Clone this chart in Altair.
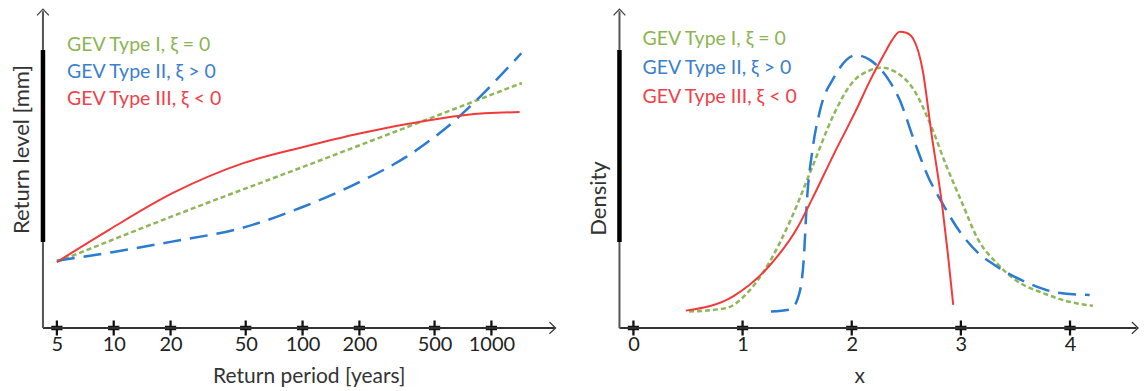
import altair as alt
import pandas as pd

FONT = "Lato"
GREEN = "#8db75a"
BLUE = "#2b7bd0"
RED = "#f23a3a"
LEG_COLORS = ["#8cb453", "#3a80cc", "#f2404a"]

# ---------------- left panel: return level vs return period ----------------
rp_ticks = [5, 10, 20, 50, 100, 200, 500, 1000]
t1_period = [5, 20, 100, 500, 1450]
t1_level = [20.6, 34.7, 50.3, 66.1, 76.6]
t2_period = [5, 10, 20, 50, 100, 200, 352, 476, 670, 766, 1440]
t2_level = [21.0, 23.75, 26.9, 31.6, 37.8, 45.6, 53.4, 58.75, 65.9, 69.1, 85.9]
t3_period = [5, 9.4, 20.6, 49, 101, 203, 476, 730, 1410]
t3_level = [20.6, 30.6, 42.2, 51.6, 56.6, 60.9, 65.0, 66.6, 67.5]

# ---------------- right panel: density ----------------
x_ticks = [0, 1, 2, 3, 4]
d1_x = [0.51, 0.85, 1.04, 1.24, 1.44, 1.64, 1.84, 2.00, 2.17, 2.27, 2.40, 2.57, 2.73, 2.87, 3.00, 3.16, 3.33, 3.50, 3.76, 3.99, 4.21]
d1_y = [5.1, 6.2, 10.8, 20.2, 33.75, 50.4, 67.1, 76.5, 80.6, 81.4, 80.1, 74.4, 62.9, 50.4, 40.0, 27.5, 20.2, 15.0, 10.8, 8.2, 6.9]
d2_x = [1.26, 1.44, 1.52, 1.56, 1.59, 1.64, 1.71, 1.84, 2.04, 2.17, 2.34, 2.44, 2.57, 2.70, 2.83, 3.00, 3.16, 3.33, 3.66, 3.89, 4.18]
d2_y = [5.1, 5.8, 10.8, 21.25, 40.0, 55.6, 68.1, 78.5, 85.3, 83.75, 77.5, 71.25, 58.75, 47.3, 39.0, 29.6, 23.4, 19.2, 13.4, 11.0, 10.3]
d3_x = [0.48, 0.91, 1.24, 1.51, 1.64, 1.84, 2.04, 2.17, 2.30, 2.37, 2.44, 2.50, 2.57, 2.65, 2.73, 2.83, 2.88, 2.93]
d3_y = [5.4, 9.8, 19.2, 31.8, 40.5, 54.6, 68.1, 77.5, 85.8, 90.0, 92.6, 92.3, 90.0, 80.6, 60.9, 37.9, 23.4, 7.2]

legend_labels = ["GEV Type I, \u03be = 0", "GEV Type II, \u03be > 0", "GEV Type III, \u03be < 0"]

CROSS = "M-0.15,-1H0.15V-0.3H0.75V0.3H0.15V1H-0.15V0.3H-0.75V-0.3H-0.15Z"
ARROW_R = "M0,0L-0.9,-0.85L-1,-0.72L-0.25,0L-1,0.72L-0.9,0.85Z"
ARROW_U = "M0,0L0.85,0.9L0.72,1L0,0.25L-0.72,1L-0.85,0.9Z"

ONE = pd.DataFrame({"k": [0]})


def panel(series, xscale, xlo, xhi, xrule_end, ticks, xtitle, xtitle_x, ytitle, ytitle_y,
          leg_x, leg_ys, width, height):
    ys = alt.Scale(domain=[0, 100], nice=False, zero=False)
    xaxis = alt.Axis(
        values=ticks, format="d", title=xtitle, domain=False, ticks=False, tickSize=0, grid=False,
        labelFont=FONT, labelFontSize=20, labelColor="#222", labelPadding=7,
        labelFlush=False, labelOverlap=False,
        titleFont=FONT, titleFontSize=21, titleFontWeight="normal", titleColor="#333",
        titlePadding=11, titleX=xtitle_x)
    yaxis = alt.Axis(title=ytitle, labels=False, ticks=False, domain=False, grid=False,
                     titleFont=FONT, titleFontSize=22, titleFontWeight="normal",
                     titleColor="#333", titleX=-21, titleY=ytitle_y,
                     titleBaseline="middle", titleAlign="center")
    layers = []
    # tick crosses
    layers.append(alt.Chart(pd.DataFrame({"t": ticks})).mark_point(
        shape=CROSS, filled=True, size=225, color="#111", opacity=1, strokeWidth=0).encode(
        x=alt.X("t:Q", scale=xscale, axis=xaxis),
        y=alt.YDatum(0, scale=ys, axis=yaxis)))
    # axis lines
    layers.append(alt.Chart(ONE).mark_rule(color="#333", strokeWidth=2).encode(
        x=alt.XDatum(xlo, scale=xscale, axis=xaxis), x2=alt.X2Datum(xrule_end),
        y=alt.YDatum(0, scale=ys, axis=yaxis)))
    layers.append(alt.Chart(ONE).mark_rule(color="#555", strokeWidth=2).encode(
        x=alt.XDatum(xlo, scale=xscale, axis=xaxis),
        y=alt.YDatum(0, scale=ys, axis=yaxis), y2=alt.Y2Datum(99)))
    layers.append(alt.Chart(ONE).mark_rule(color="#000", strokeWidth=4.5).encode(
        x=alt.XDatum(xlo, scale=xscale, axis=xaxis),
        y=alt.YDatum(26.9, scale=ys, axis=yaxis), y2=alt.Y2Datum(86.9)))
    # arrow heads
    layers.append(alt.Chart(ONE).mark_point(shape=ARROW_R, filled=True, size=225, color="#333",
                                            strokeWidth=0, opacity=1).encode(
        x=alt.XDatum(xhi, scale=xscale, axis=xaxis), y=alt.YDatum(0, scale=ys, axis=yaxis)))
    layers.append(alt.Chart(ONE).mark_point(shape=ARROW_U, filled=True, size=225, color="#444",
                                            strokeWidth=0, opacity=1).encode(
        x=alt.XDatum(xlo, scale=xscale, axis=xaxis), y=alt.YDatum(100, scale=ys, axis=yaxis)))
    # series lines
    for xs_, vs_, color, dash, sw in series:
        df = pd.DataFrame({"p": xs_, "v": vs_})
        mk = dict(color=color, strokeWidth=sw, interpolate="monotone")
        if dash:
            mk["strokeDash"] = dash
        layers.append(alt.Chart(df).mark_line(**mk).encode(
            x=alt.X("p:Q", scale=xscale, axis=xaxis),
            y=alt.Y("v:Q", scale=ys, axis=yaxis)))
    # legend text
    for lab, col, ly in zip(legend_labels, LEG_COLORS, leg_ys):
        layers.append(alt.Chart(pd.DataFrame({"label": [lab]})).mark_text(
            align="left", baseline="middle", font=FONT, fontSize=19.5, color=col).encode(
            x=alt.value(leg_x), y=alt.value(ly), text="label:N"))
    return alt.layer(*layers).properties(width=width, height=height)


left_scale = alt.Scale(type="log", domain=[4.22, 2212], nice=False, zero=False)
left = panel(
    [(t1_period, t1_level, GREEN, [5, 3], 2.5),
     (t2_period, t2_level, BLUE, [18, 9], 2.5),
     (t3_period, t3_level, RED, None, 2)],
    left_scale, 4.22, 2212, 2160, rp_ticks, "Return period [years]", 266,
    "Return level [mm]", 141,
    24, [36.5, 63.5, 90.5], 514, 320)

right_scale = alt.Scale(type="linear", domain=[-0.128, 4.632], nice=False, zero=False)
right = panel(
    [(d1_x, d1_y, GREEN, [5, 3], 2.5),
     (d2_x, d2_y, BLUE, [18, 9], 2.5),
     (d3_x, d3_y, RED, None, 2)],
    right_scale, -0.128, 4.632, 4.61, x_ticks, "x", 240, "Density", 190,
    23, [31, 60, 89], 520, 320)

chart = alt.hconcat(left, right, spacing=63, bounds="flush").properties(
    padding={"left": 3, "top": 0, "right": 0, "bottom": 0}, background="white"
).configure_view(stroke=None)

chart.save("out.html", embed_options={"renderer": "svg", "actions": False})
